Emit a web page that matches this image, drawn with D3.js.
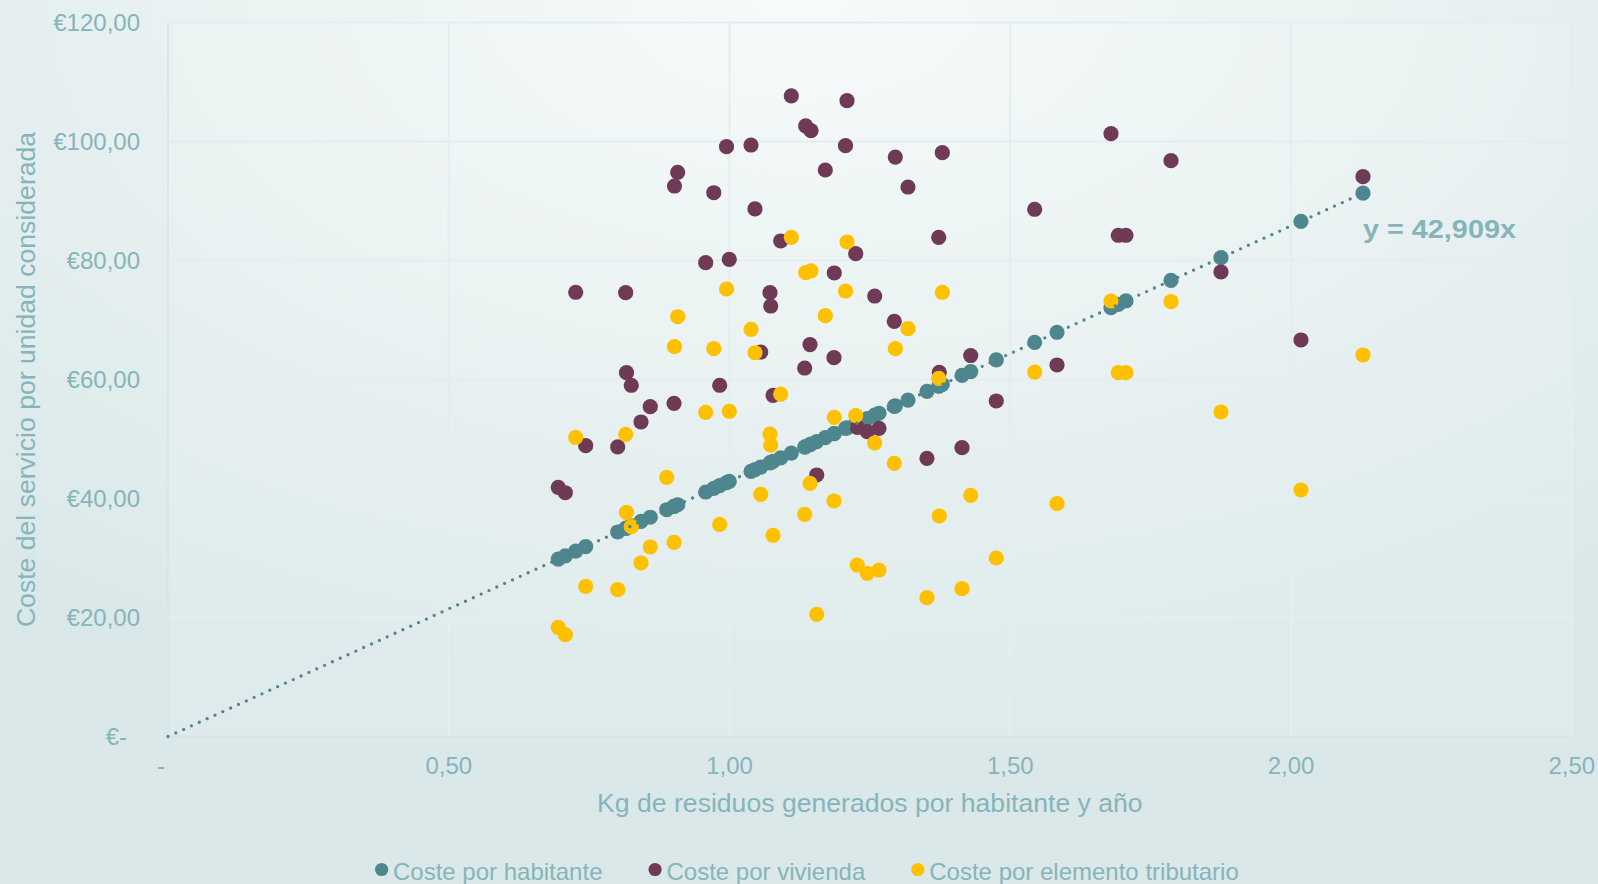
<!DOCTYPE html>
<html>
<head>
<meta charset="utf-8">
<script src="https://cdn.jsdelivr.net/npm/d3@7"></script>
<style>
  html, body { margin: 0; padding: 0; background: #dce9ea; }
  svg { display: block; font-family: "Liberation Sans", Arial, sans-serif; }
</style>
</head>
<body>
<svg id="chart" width="1598" height="884"></svg>
<script>
// ---- data ----
const kg = [0.695,0.7076,0.7261,0.7439,0.8009,0.8151,0.8166,0.8251,0.8424,0.8589,
  0.8882,0.9012,0.902,0.9077,0.9576,0.972,0.9825,0.9947,0.9996,1.0383,
  1.0454,1.0556,1.0721,1.0734,1.0775,1.0912,1.1101,1.1339,1.1357,1.1434,
  1.1451,1.1553,1.1706,1.1866,1.1861,1.2093,1.2066,1.2248,1.2276,1.2454,
  1.2586,1.2662,1.2953,1.2935,1.3179,1.3517,1.379,1.3726,1.3736,1.4141,
  1.4296,1.4751,1.5435,1.5833,1.6794,1.6924,1.7061,1.7863,1.8753,2.0178,2.1282];
const costeHabitante = [29.82,30.36,31.16,31.92,34.37,34.98,35.04,35.40,36.15,36.85,
  38.11,38.67,38.70,38.95,41.09,41.71,42.16,42.68,42.89,44.55,
  44.86,45.29,46.00,46.06,46.23,46.82,47.63,48.65,48.73,49.06,
  49.13,49.57,50.23,50.92,50.89,51.89,51.77,52.55,52.68,53.44,
  54.00,54.33,55.58,55.50,56.55,58.00,59.17,58.90,58.94,60.68,
  61.34,63.30,66.23,67.94,72.06,72.62,73.21,76.65,80.47,86.58,91.32];
const costeVivienda = [41.88,40.97,74.66,48.87,48.66,74.59,61.14,59.03,52.86,55.43,
  null,56.0,92.52,94.82,79.63,91.39,59.03,99.13,80.2,99.41,
  88.66,64.62,74.59,72.35,57.34,83.28,107.68,61.93,102.61,65.87,
  101.82,43.95,95.21,77.9,63.66,106.86,99.29,81.14,51.97,51.23,
  74.03,51.8,97.39,69.78,92.35,46.76,98.12,83.9,61.21,48.54,
  64.03,56.39,88.61,62.44,101.31,84.24,84.24,96.77,78.07,66.64,94.08];
const costeTributario = [18.35,17.11,50.29,25.24,24.67,50.79,37.68,35.26,29.16,31.85,
  43.56,32.64,65.51,70.55,54.49,65.18,35.66,75.21,54.66,68.44,
  64.5,40.71,50.84,48.99,33.82,57.53,83.9,37.34,77.95,42.55,
  78.24,20.54,70.72,53.65,39.58,83.11,74.87,53.92,28.82,27.43,
  49.33,27.98,65.18,45.92,68.54,23.33,74.66,60.2,37.06,24.84,
  40.54,30.0,61.26,39.13,73.19,61.14,61.14,73.08,54.54,41.43,64.12];
const trendSlope = 42.909;
const trendLabel = "y = 42,909x";
const seriesNames = ["Coste por habitante", "Coste por vivienda", "Coste por elemento tributario"];
const seriesColors = ["#4e868e", "#6e3a55", "#ffc000"];
const xTicks = [0, 0.5, 1.0, 1.5, 2.0, 2.5];
const xTickLabels = ["-", "0,50", "1,00", "1,50", "2,00", "2,50"];
const yTicks = [0, 20, 40, 60, 80, 100, 120];
const yTickLabels = ["€-", "€20,00", "€40,00", "€60,00", "€80,00", "€100,00", "€120,00"];
const xTitle = "Kg de residuos generados por habitante y año";
const yTitle = "Coste del servicio por unidad considerada";

// ---- layout ----
const W = 1598, H = 884;
const plot = { left: 168, right: 1571.75, top: 22.5, bottom: 736.5 };
const textColor = "#86b4bb";

const svg = d3.select("#chart");
const defs = svg.append("defs");
const bg = defs.append("radialGradient").attr("id", "bgGrad")
  .attr("cx", "50%").attr("cy", "0%").attr("r", "80%").attr("fx", "50%").attr("fy", "0%");
bg.append("stop").attr("offset", "0%").attr("stop-color", "#f6fafa");
bg.append("stop").attr("offset", "100%").attr("stop-color", "#dbe8e9");
svg.append("rect").attr("width", W).attr("height", H).attr("fill", "url(#bgGrad)");

const x = d3.scaleLinear().domain([0, 2.5]).range([plot.left, plot.right]);
const y = d3.scaleLinear().domain([0, 120]).range([plot.bottom, plot.top]);

// plot area tint
svg.append("rect").attr("x", plot.left).attr("y", plot.top)
  .attr("width", plot.right - plot.left).attr("height", plot.bottom - plot.top)
  .attr("fill", "#ffffff").attr("fill-opacity", 0.1);

// gridlines
const gridColor = "#e3eef0";
svg.append("g").selectAll("line").data(yTicks.slice(1)).join("line")
  .attr("x1", plot.left).attr("x2", plot.right)
  .attr("y1", d => y(d)).attr("y2", d => y(d))
  .attr("stroke", gridColor).attr("stroke-width", 2);
svg.append("g").selectAll("line").data(xTicks.slice(1)).join("line")
  .attr("y1", plot.top).attr("y2", plot.bottom)
  .attr("x1", d => x(d)).attr("x2", d => x(d))
  .attr("stroke", gridColor).attr("stroke-width", 2);

// axes lines
svg.append("line").attr("x1", plot.left).attr("x2", plot.right)
  .attr("y1", plot.bottom).attr("y2", plot.bottom)
  .attr("stroke", "#d4e4e6").attr("stroke-width", 1.5);
svg.append("line").attr("x1", plot.left).attr("x2", plot.left)
  .attr("y1", plot.top).attr("y2", plot.bottom)
  .attr("stroke", "#d4e4e6").attr("stroke-width", 1.5);

// tick labels
svg.append("g").selectAll("text").data(yTicks).join("text")
  .attr("x", 140).attr("y", d => y(d)).attr("dy", "0.35em")
  .attr("dx", d => d === 0 ? -13 : 0)
  .attr("text-anchor", "end").attr("font-size", 24).attr("fill", textColor)
  .text((d, i) => yTickLabels[i]);
svg.append("g").selectAll("text").data(xTicks).join("text")
  .attr("x", d => x(d)).attr("y", 773.5)
  .attr("dx", d => d === 0 ? -7 : 0)
  .attr("text-anchor", "middle").attr("font-size", 24).attr("fill", textColor)
  .text((d, i) => xTickLabels[i]);

// axis titles
svg.append("text").attr("x", (plot.left + plot.right) / 2).attr("y", 811.5)
  .attr("text-anchor", "middle").attr("font-size", 26.6).attr("fill", textColor).text(xTitle);
svg.append("text").attr("transform", `translate(35,${(plot.top + plot.bottom) / 2}) rotate(-90)`)
  .attr("text-anchor", "middle").attr("font-size", 26.6).attr("fill", textColor).text(yTitle);

// series
const r = 7.6;
const seriesData = [costeHabitante, costeVivienda, costeTributario];
seriesData.forEach((vals, s) => {
  const pts = kg.map((k, i) => ({ k, v: vals[i] })).filter(d => d.v != null);
  svg.append("g").selectAll("circle").data(pts).join("circle")
    .attr("cx", d => x(d.k)).attr("cy", d => y(d.v)).attr("r", r)
    .attr("fill", seriesColors[s]);
});

// trendline (through origin)
const kMax = d3.max(kg);
svg.append("line")
  .attr("x1", x(0)).attr("y1", y(0))
  .attr("x2", x(kMax)).attr("y2", y(trendSlope * kMax))
  .attr("stroke", "#4e868e").attr("stroke-width", 3.3)
  .attr("stroke-linecap", "round").attr("stroke-dasharray", "0 8.6");

svg.append("text").attr("x", x(kMax)).attr("y", 237.5)
  .attr("font-size", 25).attr("font-weight", "bold").attr("fill", textColor)
  .attr("textLength", 153).attr("lengthAdjust", "spacingAndGlyphs")
  .text(trendLabel);

// legend
const legend = svg.append("g");
let lx = 375;
seriesNames.forEach((name, i) => {
  legend.append("circle").attr("cx", lx + 6.6).attr("cy", 869.5).attr("r", 6.6).attr("fill", seriesColors[i]);
  const t = legend.append("text").attr("x", lx + 18).attr("y", 880)
    .attr("font-size", 24).attr("fill", textColor).text(name);
  lx = lx + 18 + t.node().getComputedTextLength() + 46;
});
</script>
</body>
</html>
